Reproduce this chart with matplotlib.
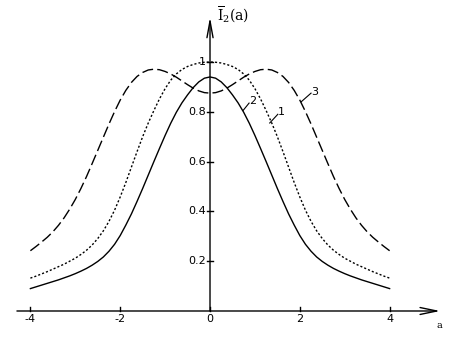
import matplotlib
matplotlib.use("Agg")
import matplotlib.pyplot as plt

# values (step 0.125)
a = [-4.0, -3.875, -3.75, -3.625, -3.5, -3.375, -3.25, -3.125, -3.0, -2.875, -2.75,
     -2.625, -2.5, -2.375, -2.25, -2.125, -2.0, -1.875, -1.75, -1.625, -1.5, -1.375,
     -1.25, -1.125, -1.0, -0.875, -0.75, -0.625, -0.5, -0.375, -0.25, -0.125, 0.0,
     0.125, 0.25, 0.375, 0.5, 0.625, 0.75, 0.875, 1.0, 1.125, 1.25, 1.375, 1.5,
     1.625, 1.75, 1.875, 2.0, 2.125, 2.25, 2.375, 2.5, 2.625, 2.75, 2.875, 3.0,
     3.125, 3.25, 3.375, 3.5, 3.625, 3.75, 3.875, 4.0]

curve1 = [0.132, 0.140, 0.149, 0.158, 0.168, 0.178, 0.188, 0.200, 0.212, 0.227, 0.244,
          0.265, 0.291, 0.322, 0.360, 0.405, 0.458, 0.516, 0.578, 0.640, 0.700, 0.755,
          0.805, 0.852, 0.893, 0.927, 0.952, 0.970, 0.982, 0.990, 0.996, 0.999, 1.000,
          0.999, 0.996, 0.990, 0.982, 0.970, 0.952, 0.927, 0.893, 0.852, 0.805, 0.755,
          0.700, 0.640, 0.578, 0.516, 0.458, 0.405, 0.360, 0.322, 0.291, 0.265, 0.244,
          0.227, 0.212, 0.200, 0.188, 0.178, 0.168, 0.158, 0.149, 0.140, 0.132]

curve2 = [0.090, 0.097, 0.104, 0.111, 0.118, 0.125, 0.133, 0.141, 0.150, 0.160, 0.171,
          0.184, 0.199, 0.217, 0.240, 0.268, 0.303, 0.345, 0.390, 0.440, 0.492, 0.546,
          0.600, 0.653, 0.705, 0.754, 0.798, 0.836, 0.868, 0.897, 0.920, 0.935, 0.940,
          0.935, 0.920, 0.897, 0.868, 0.836, 0.798, 0.754, 0.705, 0.653, 0.600, 0.546,
          0.492, 0.440, 0.390, 0.345, 0.303, 0.268, 0.240, 0.217, 0.199, 0.184, 0.171,
          0.160, 0.150, 0.141, 0.133, 0.125, 0.118, 0.111, 0.104, 0.097, 0.090]

curve3 = [0.242, 0.259, 0.277, 0.296, 0.318, 0.344, 0.374, 0.409, 0.448, 0.492, 0.540,
          0.592, 0.645, 0.698, 0.751, 0.801, 0.847, 0.886, 0.918, 0.942, 0.958, 0.968,
          0.971, 0.969, 0.962, 0.952, 0.939, 0.924, 0.909, 0.895, 0.884, 0.877, 0.875,
          0.877, 0.884, 0.895, 0.909, 0.924, 0.939, 0.952, 0.962, 0.969, 0.971, 0.968,
          0.958, 0.942, 0.918, 0.886, 0.847, 0.801, 0.751, 0.698, 0.645, 0.592, 0.540,
          0.492, 0.448, 0.409, 0.374, 0.344, 0.318, 0.296, 0.277, 0.259, 0.242]

xticks = [-4, -2, 0, 2, 4]
xtick_labels = ["-4", "-2", "0", "2", "4"]
yticks = [0.2, 0.4, 0.6, 0.8, 1.0]
ytick_labels = ["0.2", "0.4", "0.6", "0.8", "1"]

plt.rcParams["mathtext.fontset"] = "dejavuserif"

fig = plt.figure(figsize=(4.62, 3.41), dpi=100)
ax = fig.add_axes([0, 0, 1, 1])
ax.set_xlim(-4.677, 5.612)
ax.set_ylim(-0.1205, 1.249)
ax.axis("off")

k = "black"
ax.plot(a, curve2, color=k, lw=1.0, ls="-")
ax.plot(a, curve1, color=k, lw=1.0, ls=(0, (1.5, 1.5)))
ax.plot(a, curve3, color=k, lw=1.0, ls=(0, (8, 3)))

# axes with arrows
ax.annotate("", xy=(5.125, 0), xytext=(-4.3, 0),
            arrowprops=dict(arrowstyle="->,head_length=1.2,head_width=0.25",
                            color=k, lw=1.0, mutation_scale=10, shrinkA=0, shrinkB=0))
ax.annotate("", xy=(0, 1.18), xytext=(0, 0),
            arrowprops=dict(arrowstyle="->,head_length=1.2,head_width=0.22",
                            color=k, lw=1.0, mutation_scale=10, shrinkA=0, shrinkB=0))

# ticks and tick labels
for x, lab in zip(xticks, xtick_labels):
    ax.plot([x, x], [0, 0.018], color=k, lw=1.0)
    ax.text(x, -0.012, lab, ha="center", va="top", fontsize=8)
for y, lab in zip(yticks, ytick_labels):
    ax.plot([-0.06, 0.06], [y, y], color=k, lw=1.0)
    ax.text(-0.1, y, lab, ha="right", va="center", fontsize=8)

ax.text(0.16, 1.19, r"$\overline{\mathrm{I}}_2\mathrm{(a)}$", ha="left", va="center",
        fontsize=10)
ax.text(5.1, -0.06, "a", ha="center", va="center", fontsize=7, family="DejaVu Serif")

# curve labels with leader lines
ax.plot([0.74, 0.87], [0.806, 0.835], color=k, lw=0.8)
ax.text(0.88, 0.825, "2", ha="left", va="bottom", fontsize=8)
ax.plot([1.33, 1.51], [0.755, 0.79], color=k, lw=0.8)
ax.text(1.52, 0.78, "1", ha="left", va="bottom", fontsize=8)
ax.plot([2.03, 2.25], [0.84, 0.875], color=k, lw=0.8)
ax.text(2.26, 0.86, "3", ha="left", va="bottom", fontsize=8)

fig.savefig("out.png", dpi=100)
